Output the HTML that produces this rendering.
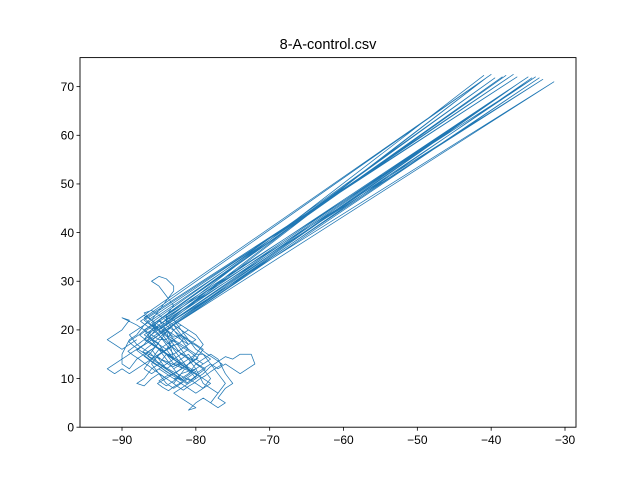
<!DOCTYPE html>
<html><head><meta charset="utf-8"><style>
body{margin:0;background:#fff;}
svg{display:block;font-family:"Liberation Sans","DejaVu Sans",sans-serif;}
</style></head><body>
<svg id="chart" width="640" height="480">
<rect width="640" height="480" fill="#fff"/>
<text x="328" y="49" text-anchor="middle" font-size="14.5">8-A-control.csv</text>
<g id="plot"></g>
<rect x="80" y="57.6" width="496" height="369.6" fill="none" stroke="#000" stroke-width="0.9"/>
<g id="axes"></g>
</svg>
<script>
const xTicks=[-90,-80,-70,-60,-50,-40,-30];
const yTicks=[0,10,20,30,40,50,60,70];
const xs=[-88,-89,-90,-91,-92,-91,-90,-89,-90,-88,-87,-86,-85,-84,-85,-86,-87,-88,-89,-90,-91,-92,-91,-90,-89,-88,-87,-86,-85,-86,-87,-88,
-40,-87,
-86,-85,-84,-83,-82,-81,-82,-83,-84,-85,-84,-83,-82,-81,-80,-79,-78,-79,-80,-81,-82,-83,-84,-85,-86,-87,-86,-85,
-38.5,-86,
-85,-84,-83,-82,-81,-80,-79,-78,-77,-76,-75,-74,-73,-72,-72.5,-74,-75,-76,-77,-78,-79,-80,-81,-82,-83,-82,-81,-80,-81,-80,-79,-78,-77,-78,-79,-80,-81,-82,-83,-84,-85,
-34,-84,
-84,-83,-84,-85,-86,-85,-84,-83,-83,-84,-85,-86,-87,-88,-89,-90,-90,-89,-88,-87,-86,-85,-84,-83,-82,-81,-80,-79,-78,-77,-76,-75,-76,-77,-76,-77,-78,-77,-76,-77,-78,-79,-80,-81,-82,-83,
-31.5,-83,
-82,-81,-80,-81,-82,-83,-84,-85,-86,-87,-88,-87,-86,-85,-84,-83,-82,-81,-80,-79,-80,-81,-82,-83,-84,-85,-86,-87,-86,-85,-84,
-36,-85,
-84,-83,-84,-85,-86,-85,-84,-83,-82,-81,-80,-79,-78,-79,-80,-81,-82,-83,-84,-85,-86,-87,-88,-89,-88,-87,-86,
-37,-86,
-85,-84,-83,-82,-81,-82,-83,-84,-85,-86,-87,-86,-85,-84,-83,-82,-81,-80,-81,-82,-83,-84,-85,-86,-85,-84,-83,
-33.5,-83,
-82,-81,-80,-79,-80,-81,-82,-83,-84,-85,-84,-83,-82,-81,-80,-79,-78,-79,-80,-81,-82,-83,-84,-85,-86,
-39.5,-86,
-85,-84,-83,-82,-81,-80,-79,-80,-81,-82,-83,-84,-85,-86,-87,-86,-85,-84,-83,-82,-81,-82,-83,-84,
-35,-84,
-83,-82,-81,-80,-81,-82,-83,-84,-85,-86,-87,-86,-85,
-41,-85,
-84,-83,-84,-83];
const ys=[18,17,16,17,18,19,20,22,22.5,21,20,18,17,16,15,14,13,12,11,12,11,12,13,14,15,16,17,19,21,22,23,22,
72.5,22.5,
21,20,19,18,17,16,15,14,13,12,11,10,9,8,7,8,9,10,11,12,13,12,14,16,17,18,20,22,
72,21,
19,17,15,13,12,11,12,13,12,13,12,11,12,13,15,15,14,14.5,13.5,12.5,11,10,9,8,7,6,5,4,3.5,5,6,5,7,8,9,12,14,16,18,20,22,
72,21,
23,25,27,29,30,31,30.5,29,28,26,24,22,21,19,18,15,13,12,14,15,16,14,12,11,10,11,13,14,15,14,11,9,8,6,5,4,5,7,9,11,13,15,16,18,20,22,
71,21,
20,19,18,17,16,15,15,13,12,10,9,8.5,10,11,10,9,11,13,15,17,19,20,21,20,18,18,19,20,21,20.5,21.5,
71,20,
19,18,16,15,13,11,9,8,9,10,9,8,10,12,13,15,14,13,12,13,15,16,17,19,20,21,22.5,
72.5,22,
21,20,19,18,17,19,21,22,23,24,23.5,22,20,18,16,14,12,10,9,10,12,14,16,18,19,20.5,21.5,
71.8,21,
19,18,17,16,14,13,12,11,10.5,9.5,8.5,9.5,11,11.5,12,13,14,15,15,14,15,17,19,20,21.5,
71.8,21,
20,19,17,15,14,14,13,12,11,10,10,11,12,11,12,14,16,17,18,19,20,21,22,22.5,
72,22,
20,18,16,15,14,13,13,15,17,18,19,20,21,
72.3,21,
19,17,16,14];
const xs2=[-84,-83.5,-83,-82.3,-81.7,-82.2,-83,-83.8,-84.5,-85.2,-84.6,-83.9,-83.2,-82.4,-81.8,-82.5,-83.3,-84.1,-84.8,-85.6,-86.3,-87,-86.4,-85.7,-85,-85.8,-86.5,-85.9,-85.1,-84.3,-85,
-38,-85.5,
-86.2,-87,-87.7,-88.4,-89.1,-88.5,-87.8,-87.1,-86.3,-85.5,-84.8,-84,-83.2,-82.4,-81.6,-80.8,-80.1,-79.4,-78.7,-79.5,-80.3,-81,-81.8,-82.6,-83.3,-84,-84.6,-85.3,-86,-86.8,-87.5,
-36.5,-87,
-86.3,-85.6,-84.9,-84.1,-83.4,-82.6,-81.9,-81.1,-80.4,-79.7,-80.5,-81.3,-82,-82.8,-83.6,-84.4,-85.2,-84.5,-83.7,-83,-82.2,-81.5,-80.7,-80,-80.8,-81.6,-82.3,-83.1,-83.9,-84.6,-85.4,-86.1,-86.9,-87.6,-86.9,-86.1,-85.4,-84.7,
-33,-84.5,
-83.8,-83,-82.3,-81.5,-80.8,-80,-79.3,-78.6,-77.8,-77.1,-76.4,-77.2,-78,-78.7,-79.5,-80.2,-81,-81.7,-82.5,-83.2,-84,-84.7,-85.5,-86.2,-87,-87.7,-88.5,-89.2,-88.5,-87.7,-87,-86.2,-85.5,-84.8,-84,
-40.5,-84.5,
-84,-83.5,-83,-82.5,-82,-81.5,-81,-80.5,-80,-80.8,-81.6,-82.4,-83.2,-84,-84.8,-85.6,-86.4,-87.2,-86.6,-86,-85.4,-84.8,-84.2,-83.6,-83,
-34.5,-83.2,
-84,-84.8,-85.5,-86.3,-85.7,-85,-84.2,-83.5,-82.7,-82,-81.2,-80.5,-81.3,-82,-82.8,-83.5,-84.3,-85,-85.8,-86.5,-87.3,-88,-87.3,-86.5,-85.8,-85,-84.3,-83.5,-82.8,
-35.8,-83.5,
-84.3,-85,-85.8,-86.5,-85.8,-85,-84.3,-83.5,-82.8,-82,-81.3,-80.5,-79.8,-80.5,-81.3,-82,-82.8,-83.5,-84.3,-85,-85.8,-86.5,-86,-85.5,-85,-84.5,-84];
const ys2=[20,19.2,18.5,18.9,18.1,17.3,16.8,16,15.4,14.6,13.8,13.1,12.4,12.9,12.2,11.4,10.8,11.5,12.3,13,13.8,14.6,15.5,16.3,17.2,18,18.9,19.8,20.5,21.2,22,
72.3,21.5,
20.7,19.9,19,18.3,17.6,16.8,16,15.3,14.5,13.8,13,12.2,11.5,10.9,10.2,9.6,10.4,11.2,12,12.7,13.5,14.3,15,15.8,16.6,17.5,18.4,19.3,20.2,21,21.8,
72,22,
21.2,20.4,19.6,18.8,18,17.3,16.5,15.8,15,14.2,13.4,12.7,11.9,11.2,10.4,9.7,9,8.2,7.5,8.3,9,9.8,10.6,11.4,12.1,12.9,13.6,14.4,15.1,15.9,16.6,17.4,18.1,18.9,19.7,20.5,21.3,22,
71.5,21.5,
20.7,19.9,19.1,18.3,17.5,16.8,16,15.2,14.4,13.7,12.9,12.2,11.4,10.6,9.9,9.1,8.4,7.6,8.4,9.2,10,10.8,11.6,12.4,13.2,14,14.8,15.6,16.4,17.2,18,18.8,19.6,20.4,21.2,
72,21,
20,19,18,17,16,15,14,13,12,11.5,12,12.5,13,13.5,14,14.5,15,15.5,16.3,17,17.8,18.6,19.4,20.2,21,
71.8,20.8,
20,19.2,18.4,17.6,16.8,16,15.2,14.4,13.6,12.8,12,11.2,10.4,9.6,10.3,11,11.8,12.6,13.4,14.2,15,15.8,16.6,17.4,18.2,19,19.8,20.6,21.4,
71.2,21,
20.2,19.4,18.6,17.8,17,16.2,15.4,14.6,13.8,13,12.2,11.4,10.6,9.8,9,9.8,10.6,11.4,12.2,13,13.8,14.6,15.5,16.5,17.5,18.5,19.5];
const X0=80,X1=576,Y0=427.2,Y1=57.6,xmin=-95.69,xmax=-28.51,ymin=0,ymax=75.97;
const sx=v=>X0+(v-xmin)/(xmax-xmin)*(X1-X0);
const sy=v=>Y0-(v-ymin)/(ymax-ymin)*(Y0-Y1);
const NS="http://www.w3.org/2000/svg";
const plot=document.getElementById('plot'),axes=document.getElementById('axes');
const allX=xs.concat(xs2),allY=ys.concat(ys2);
let d="";
for(let i=0;i<allX.length;i++){d+=(i?"L":"M")+sx(allX[i]).toFixed(2)+" "+sy(allY[i]).toFixed(2);}
const p=document.createElementNS(NS,'path');
p.setAttribute('d',d);p.setAttribute('fill','none');p.setAttribute('stroke','#1f77b4');p.setAttribute('stroke-width','0.75');p.setAttribute('stroke-linejoin','round');


plot.appendChild(p);
xTicks.forEach(t=>{
  const x=sx(t);
  const l=document.createElementNS(NS,'line');
  l.setAttribute('x1',x);l.setAttribute('x2',x);l.setAttribute('y1',Y0);l.setAttribute('y2',Y0+3.5);l.setAttribute('stroke','#000');l.setAttribute('stroke-width','0.8');
  
  
  axes.appendChild(l);
  const tx=document.createElementNS(NS,'text');
  tx.setAttribute('x',x);tx.setAttribute('y',Y0+17);tx.setAttribute('text-anchor','middle');tx.setAttribute('font-size','12');
  tx.textContent=String(t).replace('-','\u2212');
  
  
  axes.appendChild(tx);
});
yTicks.forEach(t=>{
  const y=sy(t);
  const l=document.createElementNS(NS,'line');
  l.setAttribute('x1',X0-3.5);l.setAttribute('x2',X0);l.setAttribute('y1',y);l.setAttribute('y2',y);l.setAttribute('stroke','#000');l.setAttribute('stroke-width','0.8');
  
  
  axes.appendChild(l);
  const tx=document.createElementNS(NS,'text');
  tx.setAttribute('x',X0-6);tx.setAttribute('y',y+4.3);tx.setAttribute('text-anchor','end');tx.setAttribute('font-size','12');
  tx.textContent=String(t);
  
  
  axes.appendChild(tx);
});
</script>
</body></html>
